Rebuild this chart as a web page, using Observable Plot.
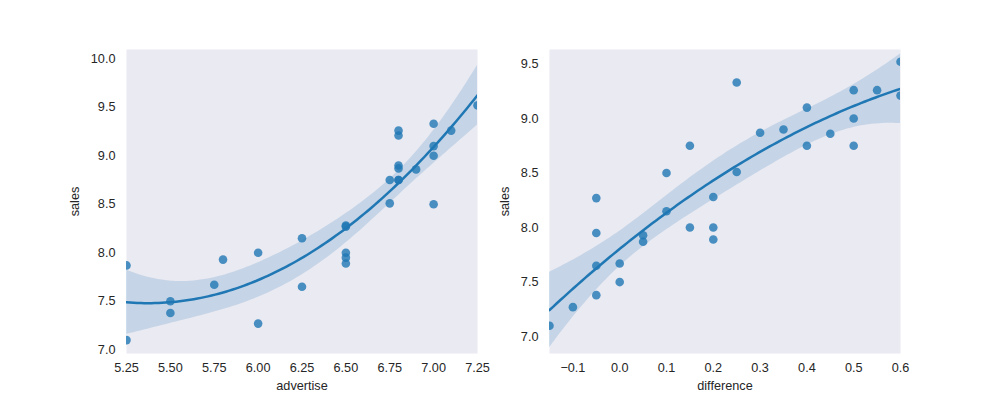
<!DOCTYPE html>
<html>
<head>
<meta charset="utf-8">
<script src="https://cdn.jsdelivr.net/npm/d3@7"></script>
<script src="https://cdn.jsdelivr.net/npm/@observablehq/plot@0.6"></script>
<style>
  html, body { margin: 0; padding: 0; background: #fff; }
  #fig { position: relative; width: 1000px; height: 397px; }
  #fig > div { position: absolute; top: 0; }
  svg { font-family: "Liberation Sans", Arial, sans-serif; }
</style>
</head>
<body>
<div id="fig"><div id="left" style="left:0px"></div><div id="right" style="left:450px"></div></div>
<script>
// Data (30 observations)
const advertise = [5.50,6.75,7.25,5.50,7.00,6.50,6.75,5.25,5.25,6.00,6.50,6.25,7.00,6.90,6.80,6.80,7.10,7.00,6.80,6.50,6.25,6.00,6.50,7.00,6.80,6.80,6.50,5.75,5.80,6.80];
const difference = [-0.05,0.25,0.60,0.00,0.25,0.20,0.15,0.05,-0.15,0.15,0.20,0.10,0.40,0.45,0.35,0.30,0.50,0.50,0.40,-0.05,-0.05,-0.10,0.20,0.10,0.50,0.60,-0.05,0.00,0.05,0.55];
const sales = [7.38,8.51,9.52,7.50,9.33,8.28,8.75,7.87,7.10,8.00,7.89,8.15,9.10,8.86,8.90,8.87,9.26,9.00,8.75,7.95,7.65,7.27,8.00,8.50,8.75,9.21,8.27,7.67,7.93,9.26];

const advTicks = [5.25,5.50,5.75,6.00,6.25,6.50,6.75,7.00,7.25];
const diffTicks = [-0.1,0.0,0.1,0.2,0.3,0.4,0.5,0.6];
const salesTicksL = [7.0,7.5,8.0,8.5,9.0,9.5,10.0];
const salesTicksR = [7.0,7.5,8.0,8.5,9.0,9.5];

const BLUE = "#1f77b4";
const INK = "#262626";
const FONT = "Liberation Sans, Arial, sans-serif";

// quadratic least-squares fit with 95% confidence band
function inv3(m) {
  const [a,b,c] = m[0], [d,e,f] = m[1], [g,h,i] = m[2];
  const A = e*i - f*h, B = -(d*i - f*g), C = d*h - e*g;
  const det = a*A + b*B + c*C;
  return [
    [A/det, -(b*i - c*h)/det, (b*f - c*e)/det],
    [B/det, (a*i - c*g)/det, -(a*f - c*d)/det],
    [C/det, -(a*h - b*g)/det, (a*e - b*d)/det]
  ];
}
function polyfit(xs, ys) {
  const n = xs.length;
  const X = xs.map(x => [1, x, x*x]);
  const XtX = [[0,0,0],[0,0,0],[0,0,0]], Xty = [0,0,0];
  for (let k = 0; k < n; k++) {
    for (let r = 0; r < 3; r++) {
      Xty[r] += X[k][r] * ys[k];
      for (let c = 0; c < 3; c++) XtX[r][c] += X[k][r] * X[k][c];
    }
  }
  const inv = inv3(XtX);
  const beta = inv.map(row => row[0]*Xty[0] + row[1]*Xty[1] + row[2]*Xty[2]);
  let sse = 0;
  for (let k = 0; k < n; k++) {
    const p = beta[0] + beta[1]*xs[k] + beta[2]*xs[k]*xs[k];
    sse += (ys[k] - p) ** 2;
  }
  const s2 = sse / (n - 3);
  const t = 2.052; // t(0.975, 27)
  const lo = d3.min(xs), hi = d3.max(xs);
  const grid = d3.range(100).map(j => lo + (hi - lo) * j / 99);
  return grid.map(x => {
    const v = [1, x, x*x];
    const yhat = beta[0] + beta[1]*x + beta[2]*x*x;
    let q = 0;
    for (let r = 0; r < 3; r++) for (let c = 0; c < 3; c++) q += v[r] * inv[r][c] * v[c];
    const se = Math.sqrt(s2 * q);
    return {x, y: yhat, y1: yhat - t*se, y2: yhat + t*se};
  });
}

function panel(xs, xLabel, xDomain, xTicks, yDomain, yTicks, mLeft, mRight, xFmt, yLabelOffset) {
  const pts = xs.map((x, k) => ({x, y: sales[k]}));
  const fit = polyfit(xs, sales);
  return Plot.plot({
    width: 500,
    height: 397,
    marginTop: 49,
    marginBottom: 44,
    marginLeft: mLeft,
    marginRight: mRight,
    style: {fontFamily: FONT, color: INK, background: "transparent"},
    x: {domain: xDomain},
    y: {domain: yDomain},
    marks: [
      Plot.frame({fill: "#EAEAF2", stroke: null}),
      Plot.areaY(fit, {x: "x", y1: "y1", y2: "y2", fill: BLUE, fillOpacity: 0.18, clip: true}),
      Plot.dot(pts, {x: "x", y: "y", r: 4.3, fill: BLUE, fillOpacity: 0.8, stroke: null, clip: true}),
      Plot.line(fit, {x: "x", y: "y", stroke: BLUE, strokeWidth: 2.5, clip: true}),
      Plot.axisX({ticks: xTicks, tickSize: 0, tickPadding: 9, tickFormat: xFmt, fontSize: 12.7,
                  label: xLabel, labelAnchor: "center", labelArrow: "none", labelOffset: 36, fill: INK}),
      Plot.axisY({ticks: yTicks, tickSize: 0, tickPadding: 11, tickFormat: d3.format(".1f"), fontSize: 12.7,
                  label: "sales", labelAnchor: "center", labelArrow: "none", labelOffset: yLabelOffset, fill: INK})
    ]
  });
}

const minus = f => d => f(d).replace("-", "\u2212");
document.getElementById("left").appendChild(
  panel(advertise, "advertise", [5.25, 7.25], advTicks, [6.962, 10.096], salesTicksL, 126, 23, d3.format(".2f"), 57)
);
document.getElementById("right").appendChild(
  panel(difference, "difference", [-0.15, 0.6], diffTicks, [6.845, 9.633], salesTicksR, 99, 50, minus(d3.format(".1f")), 50)
);
</script>
</body>
</html>
